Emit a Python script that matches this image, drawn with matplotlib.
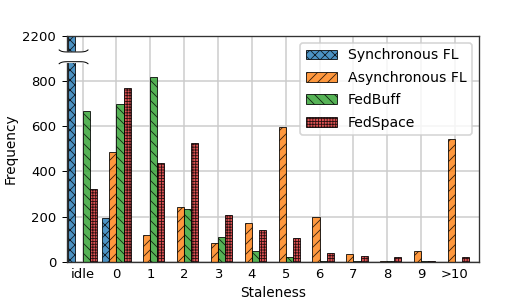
import numpy as np
import matplotlib
matplotlib.use("Agg")
import matplotlib.pyplot as plt
from matplotlib.transforms import blended_transform_factory

# donnees
categories = ["idle", "0", "1", "2", "3", "4", "5", "6", "7", "8", "9", ">10"]
sync_fl = [2200, 192, 0, 0, 0, 0, 0, 0, 0, 0, 0, 0]
async_fl = [0, 484, 118, 241, 81, 173, 594, 198, 33, 4, 46, 542]
fedbuff = [669, 698, 819, 232, 108, 47, 21, 5, 5, 1, 3, 0]
fedspace = [320, 769, 437, 527, 207, 140, 105, 37, 27, 19, 3, 19]

noms = ["Synchronous FL", "Asynchronous FL", "FedBuff", "FedSpace"]
couleurs = ["#1f77b4", "#ff7f0e", "#2ca02c", "#d62728"]
hachures = ["xxxx", "////", "\\\\\\\\", "+++++++"]

# axe coupe : tout ce qui depasse 900 est decale de 1200 (2200 -> 1000)
coupure = 900
decalage = 1200

def axe_coupe(v):
    v = np.asarray(v, dtype=float)
    return np.where(v > coupure, v - decalage, v)

plt.rcParams["hatch.linewidth"] = 0.5
fig = plt.figure(figsize=(532 / 120, 299 / 120), dpi=120)
ax = fig.add_axes([0.1259, 0.1247, 0.7745, 0.7559])

x = np.arange(len(categories))
larg = 0.21
series = [sync_fl, async_fl, fedbuff, fedspace]
for k, (vals, nom, c, h) in enumerate(zip(series, noms, couleurs, hachures)):
    ax.bar(x + (k - 1.5) * larg, axe_coupe(vals), larg, color=c, alpha=0.8,
           edgecolor="black", linewidth=0.6, hatch=h, label=nom, zorder=2)

ax.set_xlim(-0.46, 11.71)
ax.set_ylim(0, 1000)
ax.set_xticks(x)
ax.set_xticklabels(categories, fontsize=7.9)
ax.set_yticks([0, 200, 400, 600, 800, 1000])
ax.set_yticklabels(["0", "200", "400", "600", "800", "2200"], fontsize=7.9)
ax.tick_params(axis="x", length=0, pad=4)
ax.tick_params(axis="y", length=3, width=0.6)
ax.grid(True, color="#cccccc", linewidth=0.9, zorder=0)
ax.set_axisbelow(True)
for s in ax.spines.values():
    s.set_linewidth(0.8)
    s.set_color("#333333")

ax.set_xlabel("Staleness", fontsize=8.2, labelpad=2.5)
ax.set_ylabel("Frequency", fontsize=8.2, labelpad=3)
ax.legend(loc="upper right", fontsize=8.4, handlelength=2.2, labelspacing=0.6)

# marque de coupure sur l'axe y (bande blanche + deux courbes)
tr = blended_transform_factory(ax.transAxes, ax.transData)
t = np.linspace(0, 1, 40)
xs = -0.019 + t * 0.07
haut = 928 + 9 * (2 * t - 1) ** 6
bas = 885 - 9 * (2 * t - 1) ** 6
ax.fill_between(xs, bas, haut, color="white", transform=tr, clip_on=False, zorder=5)
ax.plot(xs, haut, color="black", lw=0.6, transform=tr, clip_on=False, zorder=6)
ax.plot(xs, bas, color="black", lw=0.6, transform=tr, clip_on=False, zorder=6)

fig.savefig("out.png", dpi=120)
